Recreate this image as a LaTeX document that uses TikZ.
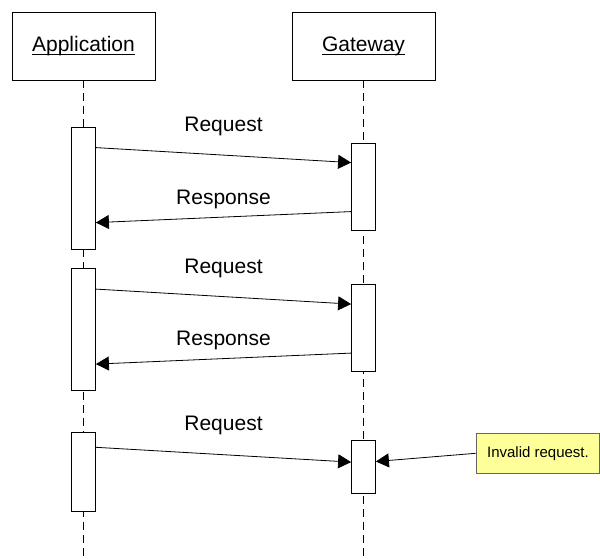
\documentclass[tikz,border=0pt]{standalone}
\usepackage{fontspec}
\setmainfont{Liberation Sans}
\usetikzlibrary{arrows.meta}
\definecolor{notefill}{RGB}{255,255,153}
\newcommand{\ulabel}[1]{\setbox0\hbox{#1}\rlap{\rule[-3.5pt]{\wd0}{1pt}}\box0}

\begin{document}
\begin{tikzpicture}[x=1pt, y=-1pt, line width=0.8pt, font=\fontsize{21}{25}\selectfont,
    object/.style={draw, fill=white, minimum width=143pt, minimum height=68pt},
    activation/.style={draw, fill=white, minimum width=24pt, inner sep=0pt},
    lifeline/.style={dash pattern=on 8pt off 5pt},
    message/.style={-{Triangle[length=13pt,width=14pt]}},
    notebox/.style={draw=black!60, fill=notefill, font=\fontsize{15}{18}\selectfont,
        minimum height=40pt, inner xsep=11pt, anchor=west}]
    \useasboundingbox (0,0) rectangle (600,559);
    \node[object] (app) at (83.5,46) {\ulabel{Application}};
    \node[object] (gw) at (363.5,46) {\ulabel{Gateway}};
    \coordinate (append) at (83.5,559);
    \coordinate (gwend) at (363.5,559);
    \draw[lifeline] (app) -- (append);
    \draw[lifeline] (gw) -- (gwend);
    \node[activation, minimum height=122pt] (app1) at (83.5,188) {};
    \node[activation, minimum height=87pt] (gw1) at (363.5,186.5) {};
    \node[activation, minimum height=122pt] (app2) at (83.5,329.5) {};
    \node[activation, minimum height=87pt] (gw2) at (363.5,328) {};
    \node[activation, minimum height=79pt] (app3) at (83.5,472.2) {};
    \node[activation, minimum height=53pt] (gw3) at (363.5,466.7) {};
    \foreach \i in {1,2} {
        \draw[message] ([yshift=-21pt]app\i.north east) -- node[midway, yshift=28.5pt] {Request} ([yshift=-20pt]gw\i.north west);
        \draw[message] ([yshift=-69pt]gw\i.north west) -- node[midway, yshift=18pt] {Response} ([yshift=-96pt]app\i.north east);
    }
    \draw[message] ([yshift=-15pt]app3.north east) -- node[midway, yshift=29pt] {Request} ([yshift=-22.3pt]gw3.north west);
    \node[notebox] (note) at (475.7,453.3) {Invalid request.};
    \draw[message] (note.west) -- ([yshift=-21.7pt]gw3.north east);
\end{tikzpicture}
\end{document}
